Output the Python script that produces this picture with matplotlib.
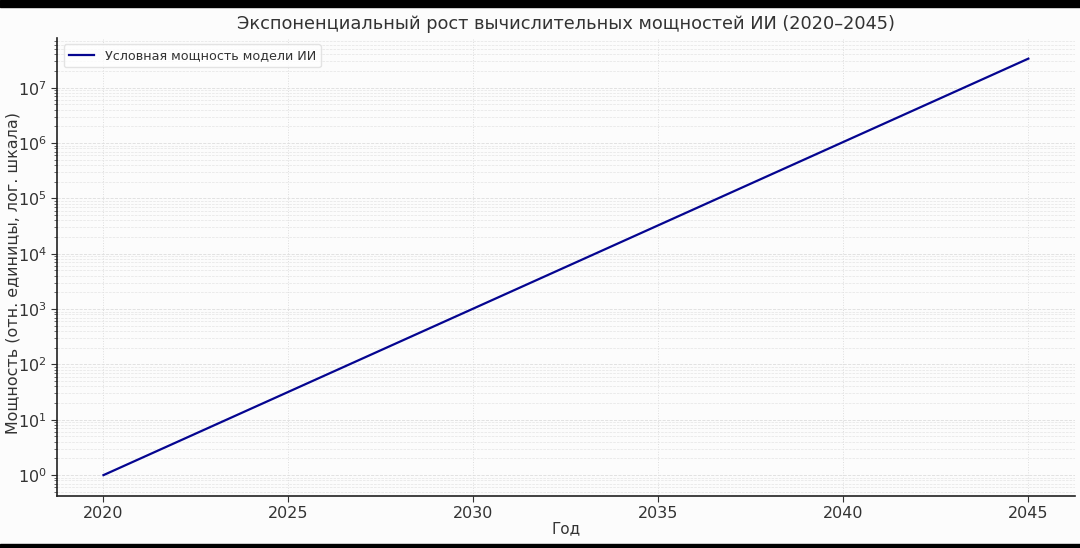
import matplotlib
matplotlib.use('Agg')
import matplotlib.pyplot as plt
from matplotlib.patches import Rectangle

years = [2020, 2021, 2022, 2023, 2024, 2025, 2026, 2027, 2028, 2029, 2030, 2031, 2032,
         2033, 2034, 2035, 2036, 2037, 2038, 2039, 2040, 2041, 2042, 2043, 2044, 2045]
power = [1, 2, 4, 8, 16, 32, 64, 128, 256, 512, 1024, 2048, 4096, 8192, 16384, 32768,
         65536, 131072, 262144, 524288, 1048576, 2097152, 4194304, 8388608, 16777216,
         33554432]
xticks = [2020, 2025, 2030, 2035, 2040, 2045]

plt.rcParams['font.family'] = ['DejaVu Sans']
text_color = '#333333'

fig = plt.figure(figsize=(10.8, 5.48), dpi=100, facecolor='#fcfcfc')
ax = fig.add_axes([0.053, 0.095, 0.942, 0.836])
ax.set_facecolor('#fcfcfc')

ax.plot(years, power, color='#050590', linewidth=1.6, label='Условная мощность модели ИИ')
ax.set_yscale('log')
ax.set_xticks(xticks)

ax.grid(True, which='major', axis='y', linestyle='--', linewidth=0.6, color='#dddddd')
ax.grid(True, which='minor', axis='y', linestyle='--', linewidth=0.5, color='#e4e4e4')
ax.grid(True, which='major', axis='x', linestyle=':', linewidth=0.7, color='#dddddd')

for side in ['top', 'right']:
    ax.spines[side].set_visible(False)
for side in ['left', 'bottom']:
    ax.spines[side].set_color('#222222')
    ax.spines[side].set_linewidth(1.2)

ax.tick_params(axis='both', which='major', labelsize=11.5, colors=text_color, length=4)
ax.tick_params(axis='y', which='minor', colors='#555555', length=2)

ax.set_title('Экспоненциальный рост вычислительных мощностей ИИ (2020–2045)',
             fontsize=12.8, color=text_color, pad=6)
ax.set_xlabel('Год', fontsize=11, color=text_color, labelpad=0)
ax.set_ylabel('Мощность (отн. единицы, лог. шкала)', fontsize=11.4, color=text_color)
ax.yaxis.set_label_coords(-0.0365, 0.487)

leg = ax.legend(loc='upper left', fontsize=9.2, frameon=True)
leg.get_frame().set_edgecolor('#dddddd')
for t in leg.get_texts():
    t.set_color(text_color)

# black bands of the screenshot frame
fig.patches.append(Rectangle((0, 1 - 7 / 548), 1, 7 / 548, transform=fig.transFigure,
                             color='black', zorder=10))
fig.patches.append(Rectangle((0, 0), 1, 4 / 548, transform=fig.transFigure,
                             color='black', zorder=10))

fig.savefig('out.png', dpi=100, facecolor=fig.get_facecolor())
